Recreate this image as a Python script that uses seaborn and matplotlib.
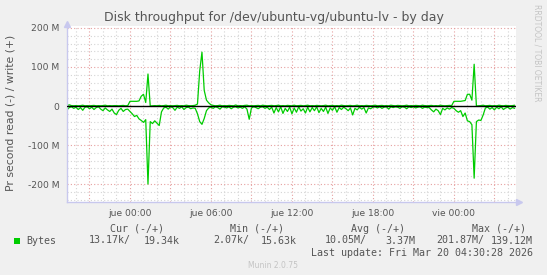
import numpy as np
import pandas as pd
import matplotlib
matplotlib.use("Agg")
import matplotlib.pyplot as plt
import seaborn as sns
from matplotlib.patches import Rectangle

# ---------------- data ----------------
t_start_h = -4.667          # hours relative to "jue 00:00"
step_h = 1 / 6             # 10-minute samples

read_M = [
    10, 4, 2, 6, 3, 9, 4, 11, 3, 2, 7, 3, 9, 4, 2, 8, 12, 5, 10, 14, 8, 18, 22, 11, 6, 14, 9, 8,
    14, 20, 27, 24, 33, 37, 42, 35, 200, 40, 45, 38, 44, 50, 15,
    5, 3, 8, 2, 4, 11, 3, 6, 2, 9, 4, 3, 7, 5,
    6, 20, 40, 47, 32, 12, 5,
    3, 6, 2, 4, 8, 2, 3, 5, 2, 7, 3, 2, 5, 3, 6, 2, 8,
    34,
    5, 2, 4, 7, 3, 2, 6, 3, 9,
    3, 18, 4, 15, 2, 19, 6, 14, 3, 20, 5, 16, 2, 13, 7, 18, 3, 15, 4, 12, 2, 17, 6, 14, 3, 19, 5, 11, 2, 16,
    4, 9, 3, 7, 12, 5, 23, 6, 10, 3, 8, 4, 18, 5, 7,
    3, 2, 5, 2, 6, 3, 2, 8, 2, 4, 2, 3, 6, 2, 3, 7, 2, 4, 2, 5, 3, 2, 6, 3, 4,
    4, 10, 15, 8, 12, 22, 6, 10, 5, 8, 4, 6, 12, 16, 12, 27, 18, 38, 40, 48, 185, 40, 36, 37, 23, 5,
    3, 8, 4, 10, 3, 7, 2, 9, 5, 3, 8, 4, 6,
]

write_M = [
    1, 3, 1, 0.5, 1, 0.5, 1, 2, 0.5, 1, 0.5, 1, 1.5, 0.5, 1, 0.5, 1, 2, 0.5, 1, 0.5, 1, 1, 0.5, 1, 1.5, 0.5, 1,
    12, 12, 12, 12, 13, 25, 30, 9, 82, 0,
    0.5, 1, 0.5, 1.5, 0.5, 1, 2, 0.5, 1, 0.5, 1, 1.5, 0.5, 1, 0.5, 2, 1, 0.5, 1, 2,
    5, 90, 138, 40, 15, 8, 3,
    1.5, 0.5, 1, 2, 0.5, 1, 0.5, 1.5, 1, 0.5,
    2.5, 0.5, 1, 0.5, 1.5, 2, 0.5, 1, 0.5, 1,
    1.5, 0.5, 2, 1, 0.5, 1, 1.5, 0.5, 1, 2,
    0.5, 1, 0.5, 1.5, 1, 0.5, 2, 0.5, 1, 1.5,
    0.5, 1, 2, 0.5, 1, 0.5, 1.5, 1, 0.5, 1,
    2, 0.5, 1, 1.5, 0.5, 1, 0.5, 2, 1, 0.5,
    1, 1.5, 0.5, 1, 2, 0.5, 1, 0.5, 1.5, 1,
    0.5, 1, 2, 0.5, 1, 1.5, 0.5, 1, 0.5, 2,
    1, 0.5, 1.5, 1, 0.5, 1, 2, 0.5, 1, 0.5,
    1.5, 1, 0.5, 2, 1, 0.5, 1, 1.5, 0.5, 1,
    0.5, 2, 1, 0.5, 1, 1.5, 1,
    12, 12, 12, 12, 13, 14, 30, 30, 15, 107, 0,
    0.5, 1, 2, 0.5, 1, 1.5, 0.5, 1, 0.5, 2, 1, 0.5, 1.5, 1, 0.5, 1, 2,
]

x_label_hours = [0, 6, 12, 18, 24]
x_labels = ["jue 00:00", "jue 06:00", "jue 12:00", "jue 18:00", "vie 00:00"]
y_major = [-200, -100, 0, 100, 200]
y_labels = ["-200 M", "-100 M", "0", "100 M", "200 M"]

title = "Disk throughput for /dev/ubuntu-vg/ubuntu-lv - by day"
ylabel = "Pr second read (-) / write (+)"
legend_headers = ["Cur (-/+)", "Min (-/+)", "Avg (-/+)", "Max (-/+)"]
legend_neg = ["13.17k/", "2.07k/", "10.05M/", "201.87M/"]
legend_pos = ["19.34k", "15.63k", "3.37M", "139.12M"]
series_name = "Bytes"
last_update = "Last update: Fri Mar 20 04:30:28 2026"
footer = "Munin 2.0.75"
side_text = "RRDTOOL / TOBI OETIKER"

# ---------------- figure ----------------
W, H = 547, 275
GREEN = "#00cc00"
TXT = "#555555"
RED_GRID = "#e6a0a0"
GRAY_GRID = "#d4d4d4"
AXIS = "#c8c8ee"

sns.set_style("white")
plt.rcParams["font.family"] = ["DejaVu Sans"]

fig = plt.figure(figsize=(W / 100, H / 100), dpi=100, facecolor="#f0f0f0")


def fx(x):
    return x / W


def fy(y):
    return 1 - y / H


ax = fig.add_axes([fx(67), fy(202), fx(516) - fx(67), fy(26) - fy(202)])
ax.set_facecolor("white")

assert len(read_M) == len(write_M)
t = t_start_h + step_h * np.arange(len(read_M))
df = pd.DataFrame({"hours": t, "write": write_M, "read": read_M})
df["read_neg"] = -df["read"]

sns.lineplot(data=df, x="hours", y="write", color=GREEN, lw=0.9, ax=ax,
             estimator=None, zorder=2)
sns.lineplot(data=df, x="hours", y="read_neg", color=GREEN, lw=0.9, ax=ax,
             estimator=None, zorder=2)
ax.axhline(0, color="black", lw=1.0, zorder=3)

ax.set_xlim(t_start_h, 28.6)
ax.set_ylim(-246, 205)

# ticks / grid
major_x = list(range(-3, 28, 3))
ax.set_xticks(major_x)
ax.set_xticklabels([x_labels[x_label_hours.index(h)] if h in x_label_hours else "" for h in major_x])
ax.set_xticks(list(range(-4, 29)), minor=True)
ax.set_yticks(y_major)
ax.set_yticklabels(y_labels)
ax.set_yticks(list(range(-240, 201, 20)), minor=True)

dot = (0, (1, 2))
ax.grid(which="major", color=RED_GRID, lw=0.8, linestyle=dot, zorder=1)
ax.grid(which="minor", color=GRAY_GRID, lw=0.8, linestyle=dot, zorder=1)
ax.set_axisbelow(True)

ax.tick_params(which="major", length=2.5, width=0.8, color=RED_GRID,
               labelcolor=TXT, labelsize=6.6)
ax.tick_params(which="minor", length=2.5, width=0.8, color=GRAY_GRID)
ax.tick_params(axis="x", which="major", pad=2.5)
ax.tick_params(axis="y", which="major", pad=3)

ax.set_xlabel("")
ax.set_ylabel("")
for s in ["top", "right"]:
    ax.spines[s].set_visible(False)
for s in ["left", "bottom"]:
    ax.spines[s].set_color(AXIS)
    ax.spines[s].set_linewidth(1.0)
ax.plot([0], [1.01], marker="^", color=AXIS, markersize=4, transform=ax.transAxes, clip_on=False)
ax.plot([1.006], [0], marker=">", color=AXIS, markersize=4, transform=ax.transAxes, clip_on=False)

# texts
fig.text(0.5, fy(17), title, ha="center", va="center", fontsize=9, color=TXT)
fig.text(fx(11), fy(113), ylabel, ha="center", va="center", rotation=90, fontsize=7.8, color=TXT)
fig.text(fx(537), fy(53), side_text, ha="center", va="center", rotation=270,
         fontsize=5.5, color="#c4c4c4")

mono = dict(family="DejaVu Sans Mono", fontsize=7.2, color=TXT, va="center")
header_right = [164, 284, 405, 526]
neg_right = [131, 249, 366.5, 484]
pos_right = [180, 297, 415, 533]
for i in range(4):
    fig.text(fx(header_right[i]), fy(228.5), legend_headers[i], ha="right", **mono)
    fig.text(fx(neg_right[i]), fy(240.5), legend_neg[i], ha="right", **mono)
    fig.text(fx(pos_right[i]), fy(240.5), legend_pos[i], ha="right", **mono)
fig.text(fx(26), fy(240.5), series_name, ha="left", **mono)
fig.patches.append(Rectangle((fx(14), fy(244)), fx(6), 6 / H, transform=fig.transFigure,
                             facecolor=GREEN, edgecolor="none"))
fig.text(fx(533), fy(253), last_update, ha="right", **mono)
fig.text(fx(273), fy(266), footer, ha="center", va="center", fontsize=5.5, color="#c4c4c4")

fig.savefig("out.png", dpi=100, facecolor=fig.get_facecolor())
